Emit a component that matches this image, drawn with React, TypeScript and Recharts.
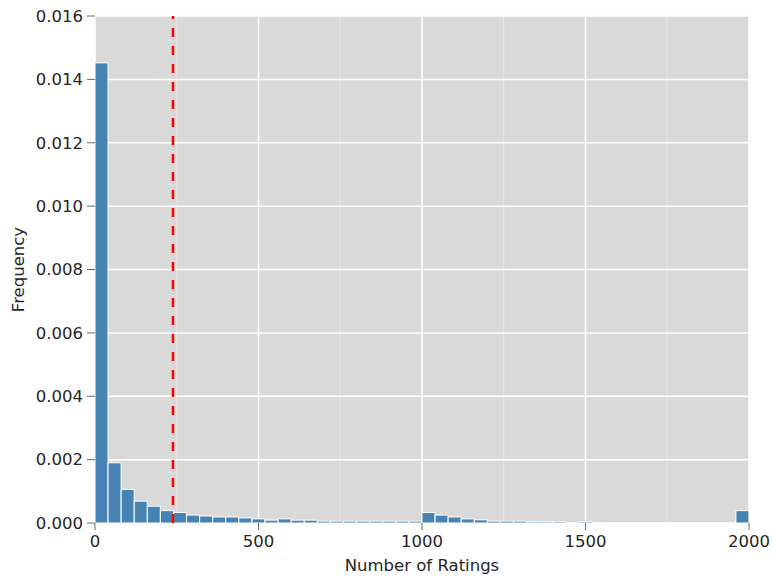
import React from "react";
import {
  Bar,
  CartesianGrid,
  ComposedChart,
  ReferenceLine,
  XAxis,
  YAxis,
} from "recharts";

// histogram: 50 bins of width 40 from 0 to 2000
const BIN_WIDTH = 40;
const binStarts = Array.from({ length: 50 }, (_, i) => i * BIN_WIDTH);

const frequencies = [
  0.01452, 0.0019, 0.00106, 0.00069, 0.00053, 0.00039, 0.00033, 0.00025, 0.00022, 0.00019,
  0.00019, 0.00016, 0.00013, 0.00009, 0.00013, 0.00009, 0.00009, 0.00006, 0.00006, 0.00006,
  0.00006, 0.00006, 0.00006, 0.00006, 0.00006, 0.00033, 0.00025, 0.00019, 0.00013, 0.0001,
  0.00006, 0.00006, 0.00006, 0.00004, 0.00004, 0.00004, 0, 0.00004, 0, 0,
  0, 0, 0, 0, 0, 0, 0, 0, 0, 0.00039,
];

const meanRatings = 238.5;

const xTicks = [0, 500, 1000, 1500, 2000];
const yTicks = [0, 0.002, 0.004, 0.006, 0.008, 0.01, 0.012, 0.014, 0.016];
// minor grid (every 250 / 0.001)
const xMinorTicks = [0, 250, 500, 750, 1000, 1250, 1500, 1750, 2000];
const yMinorTicks = [
  0, 0.001, 0.002, 0.003, 0.004, 0.005, 0.006, 0.007, 0.008, 0.009, 0.01, 0.011, 0.012,
  0.013, 0.014, 0.015, 0.016,
];

const data = binStarts.map((start, i) => ({
  center: start + BIN_WIDTH / 2,
  freq: frequencies[i],
}));

const font = "'DejaVu Sans', sans-serif";
const tickStyle = { fontSize: 16.5, fill: "#262626", fontFamily: font };

export default function App() {
  return (
    <div style={{ position: "absolute", left: 0, top: 0, background: "#fff" }}>
      <ComposedChart
        width={773}
        height={581}
        data={data}
        barCategoryGap={0}
        barGap={0}
        margin={{ top: 16, right: 24, bottom: 0, left: 0 }}
      >
        <CartesianGrid
          xAxisId="minor"
          yAxisId="minor"
          fill="#d9d9d9"
          stroke="#ebebeb"
          strokeWidth={0.8}
        />
        <CartesianGrid stroke="#ffffff" strokeWidth={1.5} />
        <XAxis
          xAxisId="minor"
          dataKey="center"
          type="number"
          domain={[0, 2000]}
          ticks={xMinorTicks}
          hide
        />
        <YAxis yAxisId="minor" type="number" domain={[0, 0.016]} ticks={yMinorTicks} hide />
        <XAxis
          dataKey="center"
          type="number"
          domain={[0, 2000]}
          ticks={xTicks}
          allowDataOverflow
          height={58}
          axisLine={false}
          tickLine={{ stroke: "#666" }}
          tickSize={7}
          tickMargin={5}
          tick={tickStyle}
          label={{
            value: "Number of Ratings",
            position: "insideBottom",
            offset: 10,
            style: { fontSize: 16.5, fill: "#262626", fontFamily: font },
          }}
        />
        <YAxis
          type="number"
          domain={[0, 0.016]}
          ticks={yTicks}
          width={95}
          axisLine={false}
          tickLine={{ stroke: "#666" }}
          tickSize={8}
          tickMargin={4}
          tick={tickStyle}
          tickFormatter={(v: number) => v.toFixed(3)}
          label={{
            value: "Frequency",
            angle: -90,
            position: "insideLeft",
            offset: 18,
            style: { fontSize: 16.5, fill: "#262626", fontFamily: font, textAnchor: "middle" },
          }}
        />
        <Bar
          dataKey="freq"
          fill="#4682b4"
          stroke="#ffffff"
          strokeWidth={1}
          isAnimationActive={false}
        />
        <ReferenceLine
          x={meanRatings}
          stroke="#ff0000"
          strokeWidth={2.5}
          strokeDasharray="9 9"
        />
      </ComposedChart>
    </div>
  );
}
